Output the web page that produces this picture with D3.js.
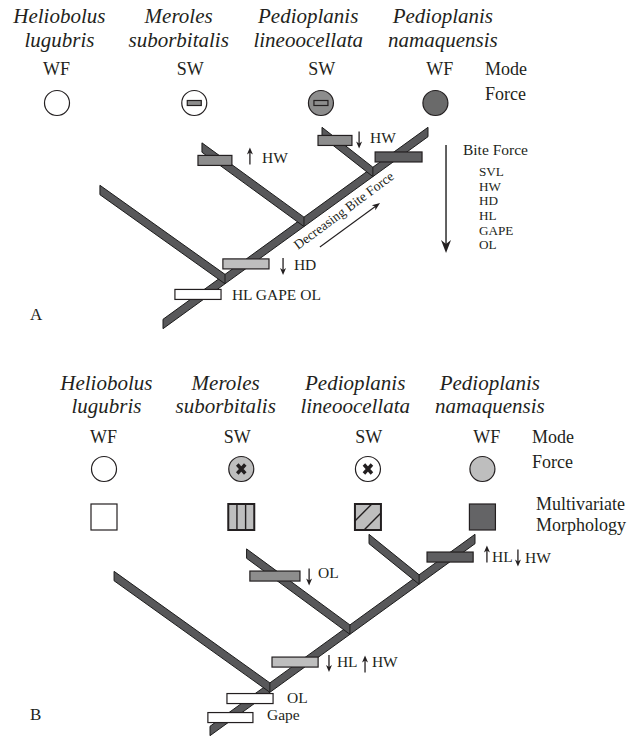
<!DOCTYPE html>
<html>
<head>
<meta charset="utf-8">
<script src="https://cdn.jsdelivr.net/npm/d3@7"></script>
<style>
  body { margin: 0; background: #fff; }
  svg { display: block; }
  text { font-family: "Liberation Serif", "Times New Roman", serif; fill: #231f20; }
</style>
</head>
<body>
<svg id="fig" width="641" height="736"></svg>
<script>
// ---- Taxa and behavioural states ----
const genus   = ["Heliobolus", "Meroles", "Pedioplanis", "Pedioplanis"];
const species = ["lugubris", "suborbitalis", "lineoocellata", "namaquensis"];
const modes   = ["WF", "SW", "SW", "WF"];

// Column positions of each taxon, in tree units (shared by both panels)
const nameU   = [-0.391, 0.059, 0.548, 1.056];
const modeU   = [-0.402, 0.103, 0.599, 1.044];
const symbolU = [-0.400, 0.118, 0.596, 1.028];

// Bite-force state symbols, panel A and panel B
const forceA = ["open", "openBar", "midBar", "dark"];
const forceB = ["open", "lightX", "openX", "light"];
// Multivariate morphology state symbols, panel B
const morphB = ["open", "vlines", "diag", "dark"];

// ---- Tree topology: each taxon's branch tip and the spine position where it joins ----
const nodeUA = [0.234, 0.532, 0.792];
const tipUA  = [-0.238, 0.147, 0.600, 1.000];
const tipVA  = [0.698, 0.919, 1.000, 1.000];

const nodeUB = [0.226, 0.528, 0.789];
const tipUB  = [-0.362, 0.138, 0.600, 1.000];
const tipVB  = [0.807, 0.924, 1.000, 1.000];

// ---- Character-change bars on branches ----
const barUA    = [0.132, 0.313, 0.196, 0.649, 0.889];
const barVA    = [0.154, 0.313, 0.852, 0.956, 0.870];
const barLenA  = [0.174, 0.174, 0.128, 0.128, 0.177];
const barToneA = ["open", "light", "mid", "mid", "dark"];

const barUB    = [0.077, 0.151, 0.321, 0.245, 0.906];
const barVB    = [0.070, 0.169, 0.359, 0.807, 0.906];
const barLenB  = [0.170, 0.174, 0.174, 0.189, 0.174];
const barToneB = ["open", "open", "light", "mid", "dark"];

// ---- Trait labels and change arrows beside the bars ----
const noteTextA = ["HL GAPE OL", "HD", "HW", "HW"];
const noteUA    = [0.260, 0.494, 0.374, 0.781];
const noteVA    = [0.125, 0.281, 0.839, 0.943];
const arrowDirA = ["down", "up", "down"];
const arrowUA   = [0.453, 0.328, 0.740];
const arrowVA   = [0.299, 0.875, 0.958];

const noteTextB = ["OL", "HL", "HW", "OL", "Gape", "HL", "HW"];
const noteUB    = [0.408, 0.479, 0.611, 0.291, 0.215, 1.064, 1.189];
const noteVB    = [0.797, 0.333, 0.333, 0.146, 0.057, 0.880, 0.875];
const arrowDirB = ["down", "down", "up", "up", "down"];
const arrowUB   = [0.374, 0.449, 0.585, 1.045, 1.162];
const arrowVB   = [0.802, 0.352, 0.349, 0.922, 0.901];

// Ranking of traits by their contribution to bite force
const biteTraits = ["SVL", "HW", "HD", "HL", "GAPE", "OL"];

// ---- Drawing ----
const svg = d3.select("#fig");
const x = d3.scaleLinear().domain([0, 1]).range([163, 428]);
const y = d3.scaleLinear().domain([0, 1]).range([324, 132]);

const tone = { open: "#ffffff", light: "#bebebe", mid: "#8d8d8d", dark: "#5e5e60" };
const ink = "#231f20";
const HALF = 4.7;      // half the vertical thickness of a branch
const BAR_H = 10;

function band(u1, v1, u2, v2) {
  const x1 = x(u1), y1 = y(v1), x2 = x(u2), y2 = y(v2);
  return `M${x1},${y1 - HALF}L${x2},${y2 - HALF}L${x2},${y2 + HALF}L${x1},${y1 + HALF}Z`;
}

function smallArrow(g, cx, cy, dir) {
  const L = 17, s = dir === "up" ? -1 : 1;
  const tip = cy + s * L / 2, tail = cy - s * L / 2;
  g.append("line").attr("x1", cx).attr("x2", cx)
    .attr("y1", tail).attr("y2", tip - s * 4)
    .attr("stroke", ink).attr("stroke-width", 1.3);
  g.append("path")
    .attr("d", `M${cx - 3},${tip - s * 7}L${cx},${tip}L${cx + 3},${tip - s * 7}L${cx},${tip - s * 5}Z`)
    .attr("fill", ink);
}

function drawPanel(g, cfg) {
  // taxon names
  const names = g.append("g").attr("font-style", "italic").attr("font-size", 21)
    .attr("text-anchor", "middle");
  genus.forEach((gn, i) => {
    names.append("text").attr("x", x(nameU[i])).attr("y", cfg.rowName1).text(gn);
    names.append("text").attr("x", x(nameU[i])).attr("y", cfg.rowName2).text(species[i]);
  });

  // foraging mode
  g.append("g").attr("font-size", 18).attr("text-anchor", "middle")
    .selectAll("text").data(modes).join("text")
    .attr("x", (d, i) => x(modeU[i])).attr("y", cfg.rowMode).text(d => d);

  // bite-force symbols
  const fg = g.append("g");
  cfg.force.forEach((code, i) => {
    const cx = x(symbolU[i]), cy = cfg.rowForce;
    const fill = code === "midBar" ? tone.mid : code === "dark" ? "#6a6a6a"
      : (code === "light" || code === "lightX") ? tone.light : "#fff";
    fg.append("circle").attr("cx", cx).attr("cy", cy).attr("r", 12.5)
      .attr("fill", fill).attr("stroke", ink).attr("stroke-width", 1.2);
    if (code === "openBar" || code === "midBar") {
      fg.append("rect").attr("x", cx - 7).attr("y", cy - 2.5).attr("width", 14).attr("height", 5)
        .attr("fill", tone.mid).attr("stroke", ink).attr("stroke-width", 1.2);
    }
    if (code === "lightX" || code === "openX") {
      fg.append("path").attr("d", `M${cx - 4},${cy - 4.5}L${cx + 4},${cy + 4.5}M${cx + 4},${cy - 4.5}L${cx - 4},${cy + 4.5}`)
        .attr("stroke", ink).attr("stroke-width", 3.4);
    }
  });

  // morphology squares
  if (cfg.morph) {
    const mg = g.append("g");
    cfg.morph.forEach((code, i) => {
      const cx = x(symbolU[i]), cy = cfg.rowMorph, s = 26;
      const x0 = cx - s / 2, y0 = cy - s / 2;
      const fill = code === "open" ? "#fff" : code === "dark" ? "#646466" : tone.light;
      const heavy = code === "vlines" || code === "diag";
      mg.append("rect").attr("x", x0).attr("y", y0).attr("width", s).attr("height", s)
        .attr("fill", fill).attr("stroke", ink).attr("stroke-width", heavy ? 2 : 1.2);
      if (code === "vlines") {
        mg.append("path").attr("d", `M${x0 + s / 3},${y0}V${y0 + s}M${x0 + 2 * s / 3},${y0}V${y0 + s}`)
          .attr("stroke", ink).attr("stroke-width", 1.4);
      }
      if (code === "diag") {
        mg.append("path")
          .attr("d", `M${x0},${y0 + 0.65 * s}L${x0 + 0.65 * s},${y0}M${x0 + 0.35 * s},${y0 + s}L${x0 + s},${y0 + 0.35 * s}`)
          .attr("stroke", ink).attr("stroke-width", 1.4);
      }
    });
  }

  // legend labels at right of the header rows
  g.append("g").attr("font-size", 18).selectAll("text").data(cfg.legend).join("text")
    .attr("x", d => x(d.u)).attr("y", d => d.y).text(d => d.t);

  // tree: spine first, then side branches laid over it
  const tg = g.append("g").attr("fill", "#58585a").attr("stroke", "#1c1c1c")
    .attr("stroke-width", 1).attr("stroke-linejoin", "miter");
  const last = cfg.tipU.length - 1;
  const spineV = u => u * cfg.tipV[last] / cfg.tipU[last];
  tg.append("path").attr("d", band(0, 0, cfg.tipU[last], cfg.tipV[last]));
  cfg.nodeU.forEach((nu, i) => {
    tg.append("path").attr("d", band(cfg.tipU[i], cfg.tipV[i], nu, spineV(nu)));
  });

  // character-change bars
  g.append("g").selectAll("rect").data(cfg.barU).join("rect")
    .attr("x", (d, i) => x(d - cfg.barLen[i] / 2))
    .attr("width", (d, i) => x(cfg.barLen[i]) - x(0))
    .attr("y", (d, i) => y(cfg.barV[i]) - BAR_H / 2)
    .attr("height", BAR_H)
    .attr("fill", (d, i) => tone[cfg.barTone[i]])
    .attr("stroke", ink).attr("stroke-width", 1.2);

  // trait labels and arrows
  g.append("g").attr("font-size", 15.5).selectAll("text").data(cfg.noteText).join("text")
    .attr("x", (d, i) => x(cfg.noteU[i])).attr("y", (d, i) => y(cfg.noteV[i])).text(d => d);
  const ag = g.append("g");
  cfg.arrowDir.forEach((d, i) => smallArrow(ag, x(cfg.arrowU[i]), y(cfg.arrowV[i]), d));
}

// Panel A
const gA = svg.append("g");
drawPanel(gA, {
  rowName1: 23, rowName2: 47, rowMode: 75, rowForce: 103,
  force: forceA, morph: null,
  legend: [{ t: "Mode", u: 1.215, y: 75 }, { t: "Force", u: 1.215, y: 100 }],
  nodeU: nodeUA, tipU: tipUA, tipV: tipVA,
  barU: barUA, barV: barVA, barLen: barLenA, barTone: barToneA,
  noteText: noteTextA, noteU: noteUA, noteV: noteVA,
  arrowDir: arrowDirA, arrowU: arrowUA, arrowV: arrowVA
});

// direction of decreasing bite force along the spine
const slope = Math.atan2(y(1) - y(0), x(1) - x(0)) * 180 / Math.PI;
gA.append("text").attr("font-size", 13.5)
  .attr("transform", `translate(${x(0.509)},${y(0.385)}) rotate(${slope - 0.6})`)
  .text("Decreasing Bite Force");
{
  const x1 = x(0.592), y1 = y(0.401), x2 = x(0.819), y2 = y(0.630);
  const a = Math.atan2(y2 - y1, x2 - x1);
  gA.append("line").attr("x1", x1).attr("y1", y1)
    .attr("x2", x2 - 5 * Math.cos(a)).attr("y2", y2 - 5 * Math.sin(a))
    .attr("stroke", ink).attr("stroke-width", 1.1);
  gA.append("path").attr("fill", ink)
    .attr("transform", `translate(${x2},${y2}) rotate(${a * 180 / Math.PI})`)
    .attr("d", "M0,0L-8,-3L-6,0L-8,3Z");
}

// bite-force ranking
{
  const ax = x(1.068), top = y(0.932), bot = y(0.370);
  gA.append("line").attr("x1", ax).attr("x2", ax).attr("y1", top).attr("y2", bot - 8)
    .attr("stroke", "#3a3a3a").attr("stroke-width", 1.6);
  gA.append("path").attr("fill", ink)
    .attr("d", `M${ax - 5},${bot - 13}L${ax},${bot}L${ax + 5},${bot - 13}L${ax},${bot - 9}Z`);
  gA.append("text").attr("font-size", 15.5).attr("x", x(1.132)).attr("y", 154.5).text("Bite Force");
  gA.append("g").attr("font-size", 13.2).selectAll("text").data(biteTraits).join("text")
    .attr("x", x(1.192)).attr("y", (d, i) => 176 + i * 14.65).text(d => d);
}

// Panel B
const gB = svg.append("g").attr("transform", "translate(47,407)");
drawPanel(gB, {
  rowName1: -17, rowName2: 6, rowMode: 36, rowForce: 62, rowMorph: 110,
  force: forceB, morph: morphB,
  legend: [{ t: "Mode", u: 1.215, y: 36 }, { t: "Force", u: 1.215, y: 61 },
           { t: "Multivariate", u: 1.230, y: 103 }, { t: "Morphology", u: 1.230, y: 124 }],
  nodeU: nodeUB, tipU: tipUB, tipV: tipVB,
  barU: barUB, barV: barVB, barLen: barLenB, barTone: barToneB,
  noteText: noteTextB, noteU: noteUB, noteV: noteVB,
  arrowDir: arrowDirB, arrowU: arrowUB, arrowV: arrowVB
});

// panel letters
svg.append("text").attr("font-size", 17).attr("x", 30).attr("y", 320).text("A");
svg.append("text").attr("font-size", 17).attr("x", 30).attr("y", 720).text("B");
</script>
</body>
</html>
